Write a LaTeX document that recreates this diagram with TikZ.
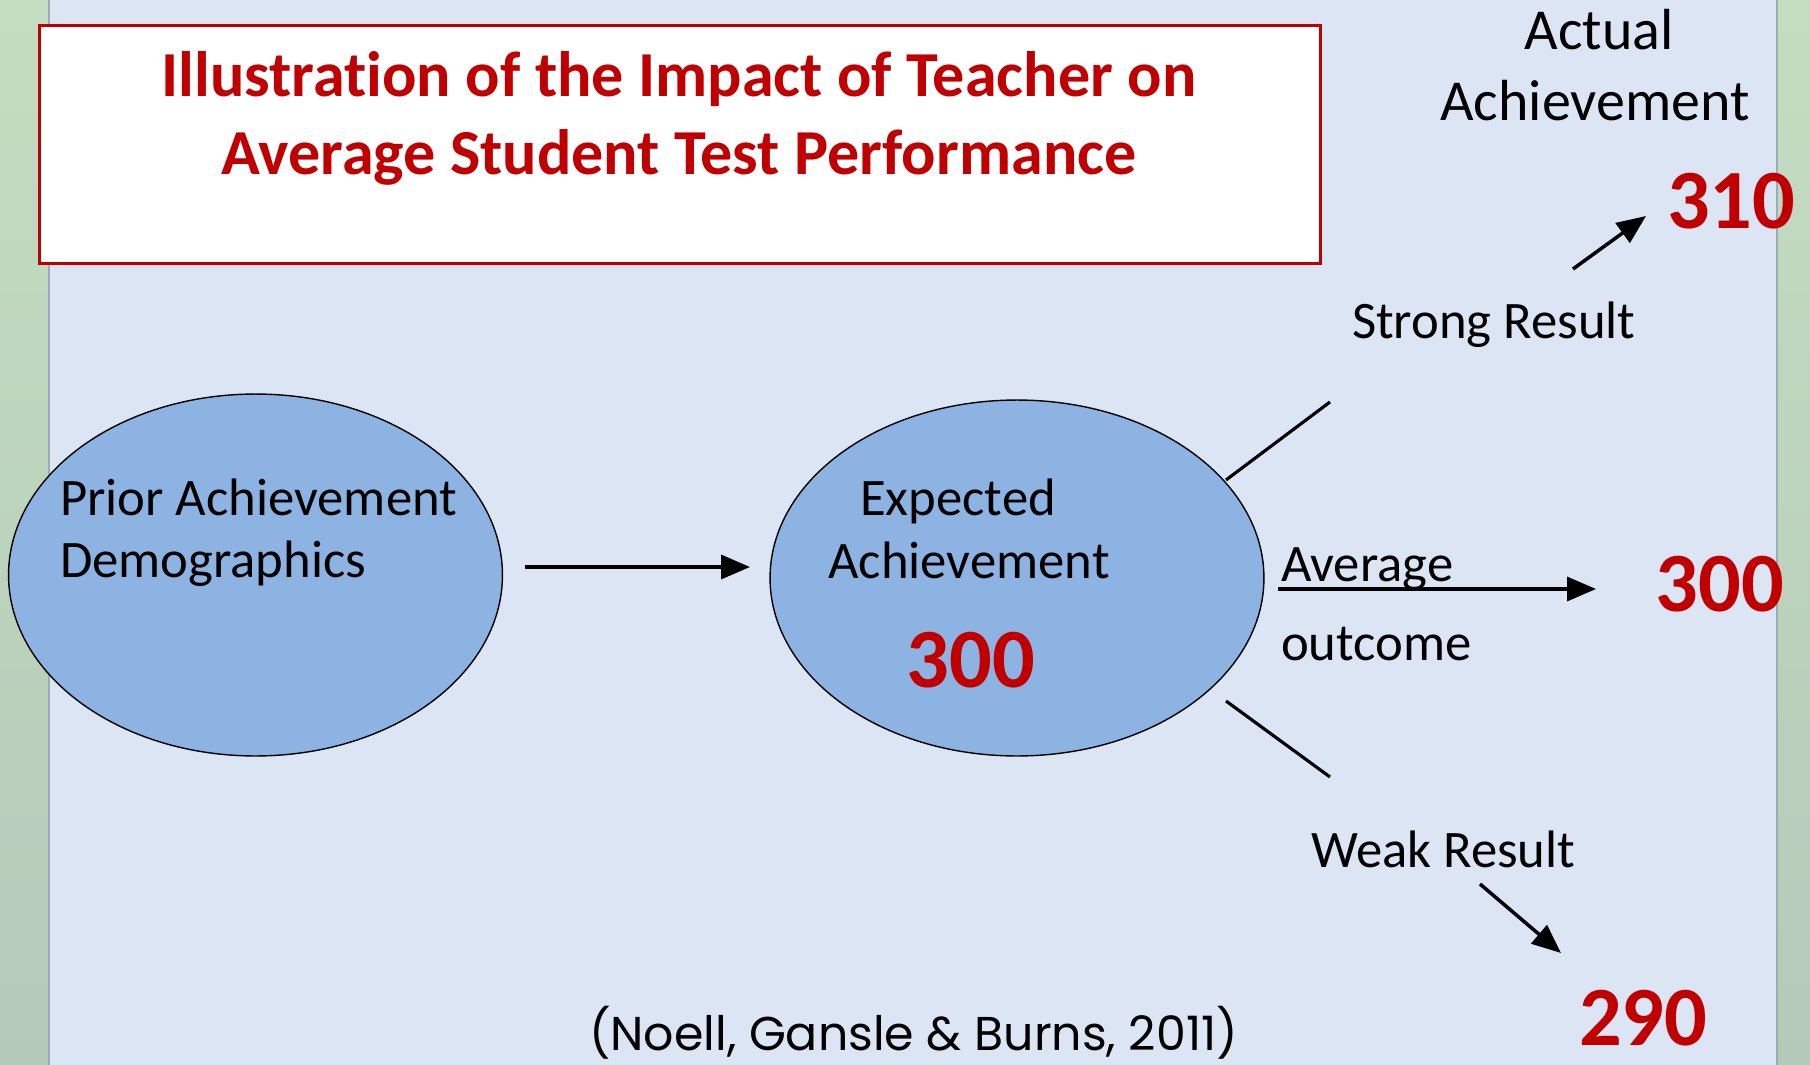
\documentclass[tikz,border=0pt]{standalone}
\usepackage{fontspec}
\setmainfont[Ligatures=CommonOff]{Carlito}
\newfontfamily\citefont{Poppins}
\usetikzlibrary{shapes, arrows.meta, positioning}
\definecolor{panel}{HTML}{DBE5F4}
\definecolor{bandtop}{HTML}{C4DDC0}
\definecolor{bandbot}{HTML}{B5C9B9}
\definecolor{oval}{HTML}{8DB3E2}
\definecolor{darkred}{HTML}{C00000}
\definecolor{rule}{HTML}{9AABB9}

\begin{document}
\begin{tikzpicture}[x=0.02cm, y=-0.02cm,
    every node/.style={inner sep=0pt, outer sep=0pt},
    txt/.style={font=\fontsize{30}{36}\selectfont},
    title/.style={font=\fontsize{36.5}{44}\selectfont\bfseries, text=darkred},
    big/.style={font=\fontsize{48}{58}\selectfont\bfseries, text=darkred},
    blob/.style={ellipse, draw, fill=oval, line width=0.8pt,
      minimum width=9.88cm, minimum height=7.24cm},
    arr/.style={line width=2pt, -{Triangle[length=0.58cm, width=0.48cm]}},
    ln/.style={line width=1.8pt}]
  \useasboundingbox (0,0) rectangle (1810,1065);
  % slide background
  \fill[panel] (0,0) rectangle (1810,1065);
  \shade[top color=bandtop, bottom color=bandbot] (0,0) rectangle (49,1065);
  \shade[top color=bandtop, bottom color=bandbot] (1777,0) rectangle (1810,1065);
  \draw[rule, line width=1.2pt] (49,0) -- (49,1065);
  \draw[rule, line width=1.2pt] (1777,0) -- (1777,1065);

  % heading
  \node[draw=darkred, fill=white, line width=1.7pt,
    minimum width=25.64cm, minimum height=4.78cm] (box) at (680,144.5) {};
  \node[title, anchor=base] (t1) at (679,96) {Illustration of the Impact of Teacher on};
  \node[title, anchor=base] (t2) at (679,174) {Average Student Test Performance};

  % the two ovals
  \node[blob] (prior) at (255.5,575) {};
  \node[blob, minimum height=7.12cm] (exp) at (1017,578) {};
  \node[txt, anchor=base west] (p1) at (60,515) {Prior Achievement};
  \node[txt, anchor=base west] (p2) at (60,577) {Demographics};
  \node[txt, anchor=base] (e1) at (958,515) {Expected};
  \node[txt, anchor=base] (e2) at (969,578) {Achievement};
  \node[big, anchor=base] (e3) at (971,687) {300};

  \coordinate (a0) at (525,567);
  \coordinate (a1) at (750,567);
  \draw[arr] (a0) -- (a1);

  % three outcomes
  \coordinate (s0) at (1226,480);
  \coordinate (s1) at (1330,402);
  \coordinate (w0) at (1226,701);
  \coordinate (w1) at (1330,777);
  \coordinate (m0) at (1278,589);
  \coordinate (m1) at (1596,589);
  \draw[ln] (s0) -- (s1);
  \draw[ln] (w0) -- (w1);
  \draw[arr] (m0) -- (m1);

  \node[txt, anchor=base west] (avg) at (1281,581) {Average};
  \node[txt, anchor=base west] (out) at (1281,660) {outcome};
  \node[big, anchor=base] (mid) at (1720,611) {300};

  \node[txt, font=\fontsize{33}{40}\selectfont, anchor=base] (act1) at (1599,49) {Actual};
  \node[txt, font=\fontsize{33}{40}\selectfont, anchor=base] (act2) at (1595,120) {Achievement};

  \node[txt, anchor=base west] (strong) at (1352,338) {Strong Result};
  \node[big, anchor=base west] (top) at (1667,228) {310};
  \coordinate (u0) at (1573,269);
  \coordinate (u1) at (1646,216);
  \draw[arr] (u0) -- (u1);

  \node[txt, anchor=base west] (weak) at (1311,867) {Weak Result};
  \node[big, anchor=base west] (low) at (1579,1045) {290};
  \coordinate (d0) at (1480,884);
  \coordinate (d1) at (1561,953);
  \draw[arr] (d0) -- (d1);

  % source
  \node[font=\citefont\fontsize{27}{32}\selectfont, anchor=base west] (src) at (589,1050)
    {(Noell, Gansle \& Burns, 2011)};
\end{tikzpicture}
\end{document}
